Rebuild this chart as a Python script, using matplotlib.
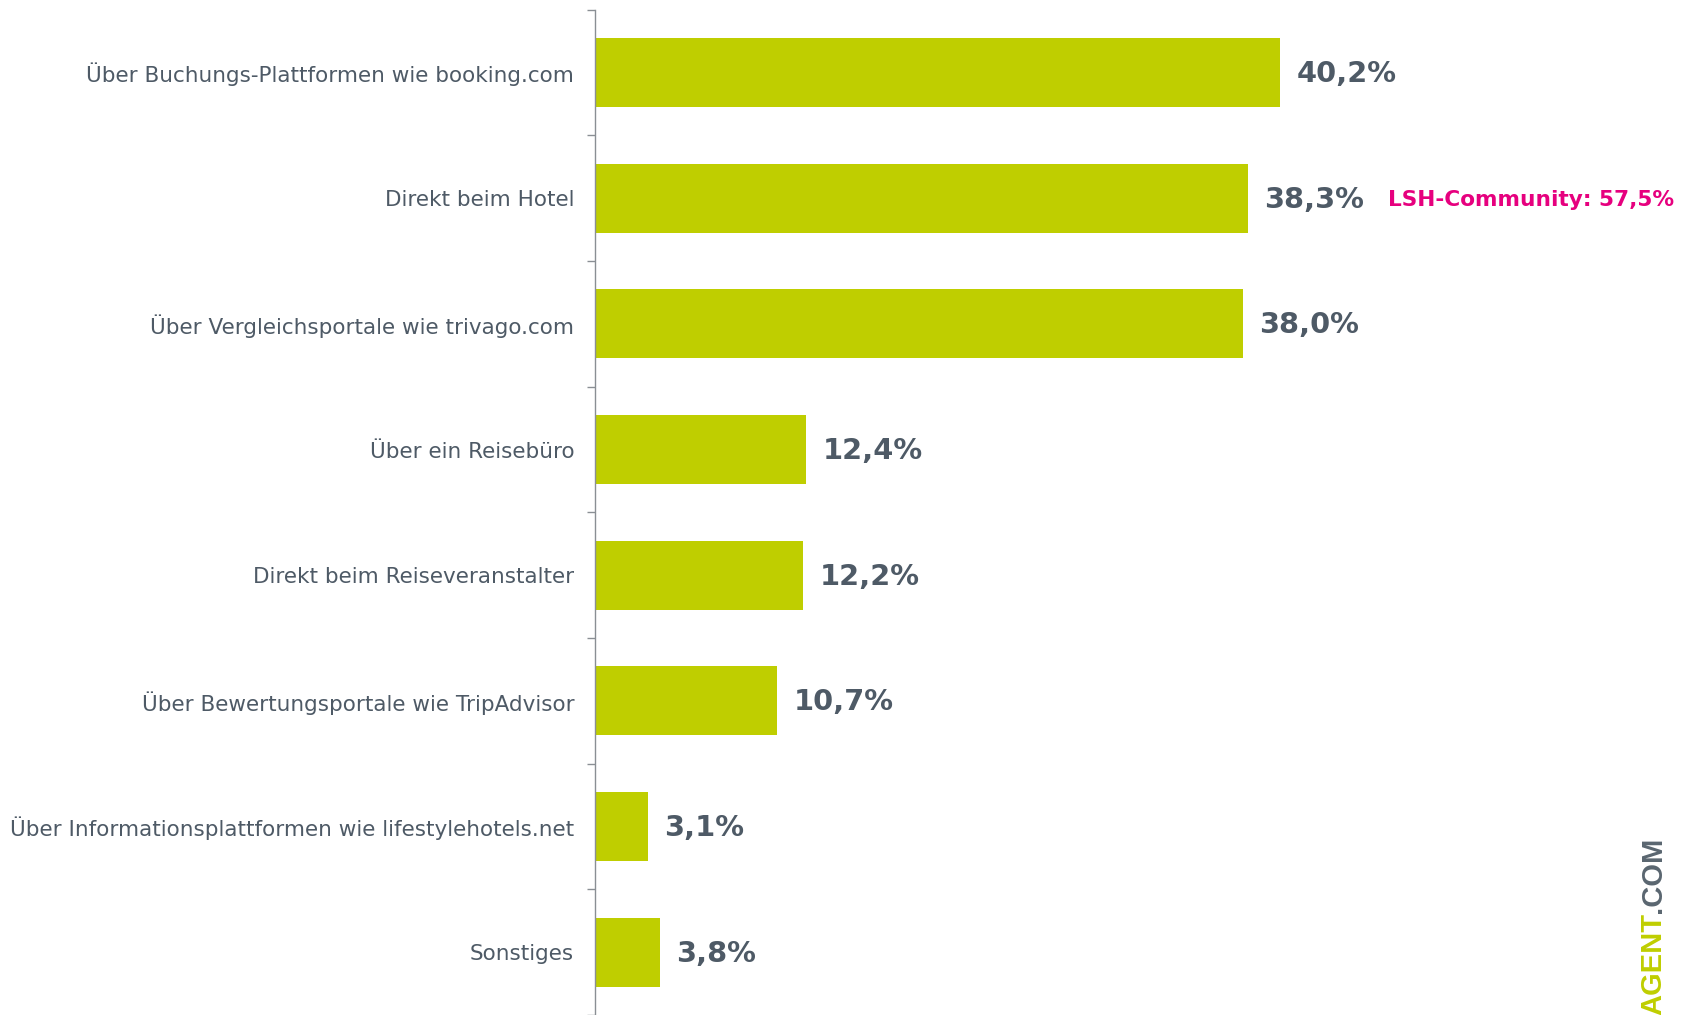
import matplotlib
matplotlib.use('Agg')
import matplotlib.pyplot as plt

categories = [
    'Über Buchungs-Plattformen wie booking.com',
    'Direkt beim Hotel',
    'Über Vergleichsportale wie trivago.com',
    'Über ein Reisebüro',
    'Direkt beim Reiseveranstalter',
    'Über Bewertungsportale wie TripAdvisor',
    'Über Informationsplattformen wie lifestylehotels.net',
    'Sonstiges',
]
values = [40.2, 38.3, 38.0, 12.4, 12.2, 10.7, 3.1, 3.8]
value_labels = ['40,2%', '38,3%', '38,0%', '12,4%', '12,2%', '10,7%', '3,1%', '3,8%']
note_label = 'LSH-Community: 57,5%'
note_index = 1

BAR = '#bfce00'
TXT = '#4e5a66'
PINK = '#e6007e'
W, H, DPI = 1683, 1015, 100

plt.rcParams['font.family'] = ['DejaVu Sans']
fig = plt.figure(figsize=(W / DPI, H / DPI), dpi=DPI)

left_px, top_px = 595, 9.7
ax = fig.add_axes([left_px / W, 0, 1 - left_px / W, 1 - top_px / H])

ypos = list(range(len(categories)))
bars = ax.barh(ypos, values, height=0.55, color=BAR, zorder=2)

ax.set_xlim(0, (W - left_px) / 17.04)
ax.set_ylim(len(categories) - 0.52, -0.5)

ax.set_yticks(ypos, categories, fontsize=15.5, color=TXT)
ax.tick_params(axis='y', which='major', length=0, pad=15)
ax.set_yticks([i - 0.5 for i in range(len(categories) + 1)], minor=True)
ax.tick_params(axis='y', which='minor', length=6, color='#8a8f94', width=1)
ax.set_xticks([])

for side in ['top', 'right', 'bottom']:
    ax.spines[side].set_visible(False)
ax.spines['left'].set_color('#8a8f94')
ax.spines['left'].set_linewidth(1)

anns = []
for b, lab in zip(bars, value_labels):
    a = ax.annotate(lab, xy=(b.get_width(), b.get_y() + b.get_height() / 2),
                    xytext=(12, -1), textcoords='offset points',
                    ha='left', va='center', fontsize=20.8, fontweight='bold',
                    color=TXT)
    anns.append(a)

ax.annotate(note_label, xy=(1, 0.5), xycoords=anns[note_index],
            xytext=(17, 0), textcoords='offset points',
            ha='left', va='center', fontsize=15.6, fontweight='bold', color=PINK)

# watermark on the right edge
wx = 1653 / W
wy = 1 - 913 / H
fig.text(wx, wy, 'AGENT', rotation=90, rotation_mode='anchor',
         ha='right', va='center', fontsize=21, fontweight='bold',
         family='Liberation Sans', color=BAR)
fig.text(wx, wy, '.COM', rotation=90, rotation_mode='anchor',
         ha='left', va='center', fontsize=21, fontweight='bold',
         family='Liberation Sans', color='#5a6670')

fig.savefig('out.png', dpi=DPI)
